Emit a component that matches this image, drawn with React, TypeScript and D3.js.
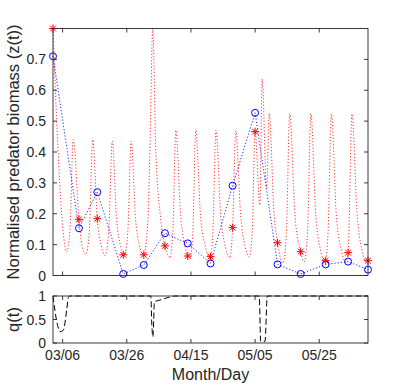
import React from 'react';
import * as d3 from 'd3';

// days are counted from 03/03
const tickDays = [3, 23, 43, 63, 83];
const tickLabels = ['03/06', '03/26', '04/15', '05/05', '05/25'];
const zTicks = [0, 0.1, 0.2, 0.3, 0.4, 0.5, 0.6, 0.7];
const qTicks = [0, 0.5, 1];

// observed predator biomass (blue circles)
const obsDays = [0, 8.1, 13.8, 21.9, 28.3, 34.9, 42, 49.1, 56, 63, 70, 77.2, 85, 92, 98.2];
const observed = [0.71, 0.153, 0.27, 0.005, 0.034, 0.137, 0.104, 0.039, 0.291, 0.527, 0.036, 0.005, 0.036, 0.045, 0.019];
// model at the observation days (red stars)
const sampled = [0.8, 0.182, 0.184, 0.067, 0.067, 0.096, 0.063, 0.061, 0.155, 0.466, 0.106, 0.077, 0.048, 0.074, 0.048];

// model trajectory z(t) (red dotted)
const modelDays = [
  0, 1.5, 2.7, 4.3, 5.3, 6.3, 8.1, 9.0, 10.2, 11.3, 12.4, 13.8, 15.1, 16.2, 17.35, 18.5,
  19.8, 21.1, 21.9, 22.2, 23.3, 24.4, 25.7, 27.0, 28.1, 28.3, 29.6, 30.3, 31.1, 32.0, 33.5,
  34.9, 36.4, 37.35, 38.3, 39.8, 41.3, 42.0, 42.7, 43.6, 44.5, 46.0, 47.6, 48.9, 49.1, 49.85,
  50.8, 52.3, 53.8, 55.1, 56.0, 57.0, 58.5, 59.9, 61.2, 62.1, 63.0, 64.5, 65.2, 66.6, 67.4,
  68.9, 70.0, 71.7, 72.75, 73.8, 75.4, 77.2, 78.3, 79.35, 80.4, 81.9, 83.4, 84.7, 85.0, 85.75,
  86.8, 88.3, 89.9, 91.2, 92.0, 93.2, 94.8, 96.3, 97.7, 98.2,
];
const modelZ = [
  0.8, 0.42, 0.2, 0.077, 0.15, 0.44, 0.182, 0.098, 0.068, 0.14, 0.44, 0.184, 0.095, 0.065, 0.14, 0.435,
  0.187, 0.093, 0.067, 0.064, 0.138, 0.435, 0.188, 0.096, 0.066, 0.067, 0.18, 0.45, 0.8, 0.42, 0.19,
  0.096, 0.057, 0.14, 0.47, 0.194, 0.09, 0.063, 0.058, 0.14, 0.47, 0.193, 0.09, 0.057, 0.061, 0.14,
  0.47, 0.193, 0.09, 0.057, 0.155, 0.468, 0.195, 0.093, 0.06, 0.14, 0.466, 0.228, 0.636, 0.283, 0.525,
  0.2, 0.106, 0.04, 0.137, 0.523, 0.2, 0.077, 0.044, 0.14, 0.523, 0.2, 0.082, 0.044, 0.048, 0.14,
  0.523, 0.2, 0.082, 0.044, 0.074, 0.523, 0.2, 0.082, 0.044, 0.048,
];

// control q(t) (black dashed)
const qDays = [0, 1.35, 2.2, 3.2, 4.27, 4.8, 5.2, 30.5, 30.8, 31.15, 31.4, 31.6, 32.7, 35.5, 38, 64.3, 64.75, 66.1, 66.8, 98.2];
const qValues = [1, 0.4, 0.24, 0.27, 0.7, 0.97, 1, 1, 0.4, 0.13, 0.5, 0.88, 0.9, 0.96, 1, 1, 0.035, 0.035, 1, 1];

const font = '"Liberation Sans", Arial, Helvetica, sans-serif';
const ink = '#262626';
const tickLen = 4;

const Star = ({ cx, cy }: { cx: number; cy: number }) => {
  const r = 4;
  const d = r * 0.72;
  return (
    <g stroke="#ff0000" strokeWidth={1}>
      <line x1={cx - r} y1={cy} x2={cx + r} y2={cy} />
      <line x1={cx} y1={cy - r} x2={cx} y2={cy + r} />
      <line x1={cx - d} y1={cy - d} x2={cx + d} y2={cy + d} />
      <line x1={cx - d} y1={cy + d} x2={cx + d} y2={cy - d} />
    </g>
  );
};

export default function App() {
  const x = d3.scaleLinear().domain([0, 98.2]).range([53, 368]);
  const yz = d3.scaleLinear().domain([0, 0.8]).range([275.5, 28.5]);
  const yq = d3.scaleLinear().domain([0, 1]).range([343, 296]);

  const zLine = d3.line<[number, number]>()
    .x(d => x(d[0]))
    .y(d => yz(d[1]))
    .curve(d3.curveMonotoneX);
  const obsLine = d3.line<[number, number]>()
    .x(d => x(d[0]))
    .y(d => yz(d[1]));
  const qLine = d3.line<[number, number]>()
    .x(d => x(d[0]))
    .y(d => yq(d[1]))
    .curve(d3.curveMonotoneX);

  const [x0, x1] = x.range();

  const frame = (y0: number, y1: number) => (
    <rect x={x0} y={y1} width={x1 - x0} height={y0 - y1} fill="none" stroke={ink} strokeWidth={0.9} />
  );

  const xTicks = (y0: number, y1: number, labels: boolean) => (
    <g>
      {tickDays.map((t, i) => (
        <g key={t}>
          <line x1={x(t)} x2={x(t)} y1={y0} y2={y0 - tickLen} stroke={ink} strokeWidth={0.9} />
          <line x1={x(t)} x2={x(t)} y1={y1} y2={y1 + tickLen} stroke={ink} strokeWidth={0.9} />
          {labels && (
            <text x={x(t)} y={y0 + 17} textAnchor="middle" fontSize={14} fill={ink} fontFamily={font}>
              {tickLabels[i]}
            </text>
          )}
        </g>
      ))}
    </g>
  );

  const yTicks = (scale: d3.ScaleLinear<number, number>, values: number[]) => (
    <g>
      {values.map(v => (
        <g key={v}>
          <line x1={x0} x2={x0 + tickLen} y1={scale(v)} y2={scale(v)} stroke={ink} strokeWidth={0.9} />
          <line x1={x1} x2={x1 - tickLen} y1={scale(v)} y2={scale(v)} stroke={ink} strokeWidth={0.9} />
          <text x={x0 - 7} y={scale(v)} dy="0.36em" textAnchor="end" fontSize={14} fill={ink} fontFamily={font}>
            {String(v)}
          </text>
        </g>
      ))}
    </g>
  );

  const modelPts = d3.zip(modelDays, modelZ) as [number, number][];
  const obsPts = d3.zip(obsDays, observed) as [number, number][];
  const qPts = d3.zip(qDays, qValues) as [number, number][];

  return (
    <svg width={407} height={385} style={{ position: 'absolute', left: 0, top: 0, background: '#fff' }}>
      <rect width={407} height={385} fill="#fff" />

      {/* upper panel */}
      <path d={zLine(modelPts) ?? ''} fill="none" stroke="#ff0000" strokeWidth={1} strokeDasharray="1.2,2" opacity={0.8} />
      <path d={obsLine(obsPts) ?? ''} fill="none" stroke="#0000ff" strokeWidth={1} strokeDasharray="1.2,2" opacity={0.85} />
      {obsDays.map((t, i) => (
        <circle key={'o' + i} cx={x(t)} cy={yz(observed[i])} r={3.5} fill="none" stroke="#0000ff" strokeWidth={1} />
      ))}
      {obsDays.map((t, i) => (
        <Star key={'s' + i} cx={x(t)} cy={yz(sampled[i])} />
      ))}
      {frame(yz(0), yz(0.8))}
      {xTicks(yz(0), yz(0.8), false)}
      {yTicks(yz, zTicks)}
      <text
        transform={`translate(19, ${(yz(0) + yz(0.8)) / 2}) rotate(-90)`}
        textAnchor="middle" fontSize={16.5} fill={ink} fontFamily={font}
      >
        Normalised predator biomass (z(t))
      </text>

      {/* lower panel */}
      <path d={qLine(qPts) ?? ''} fill="none" stroke="#000" strokeWidth={1} strokeDasharray="6,3" />
      {frame(yq(0), yq(1))}
      {xTicks(yq(0), yq(1), true)}
      {yTicks(yq, qTicks)}
      <text
        transform={`translate(19, ${(yq(0) + yq(1)) / 2}) rotate(-90)`}
        textAnchor="middle" fontSize={16.5} fill={ink} fontFamily={font}
      >
        q(t)
      </text>
      <text x={(x0 + x1) / 2} y={380} textAnchor="middle" fontSize={16} fill={ink} fontFamily={font}>
        Month/Day
      </text>
    </svg>
  );
}
